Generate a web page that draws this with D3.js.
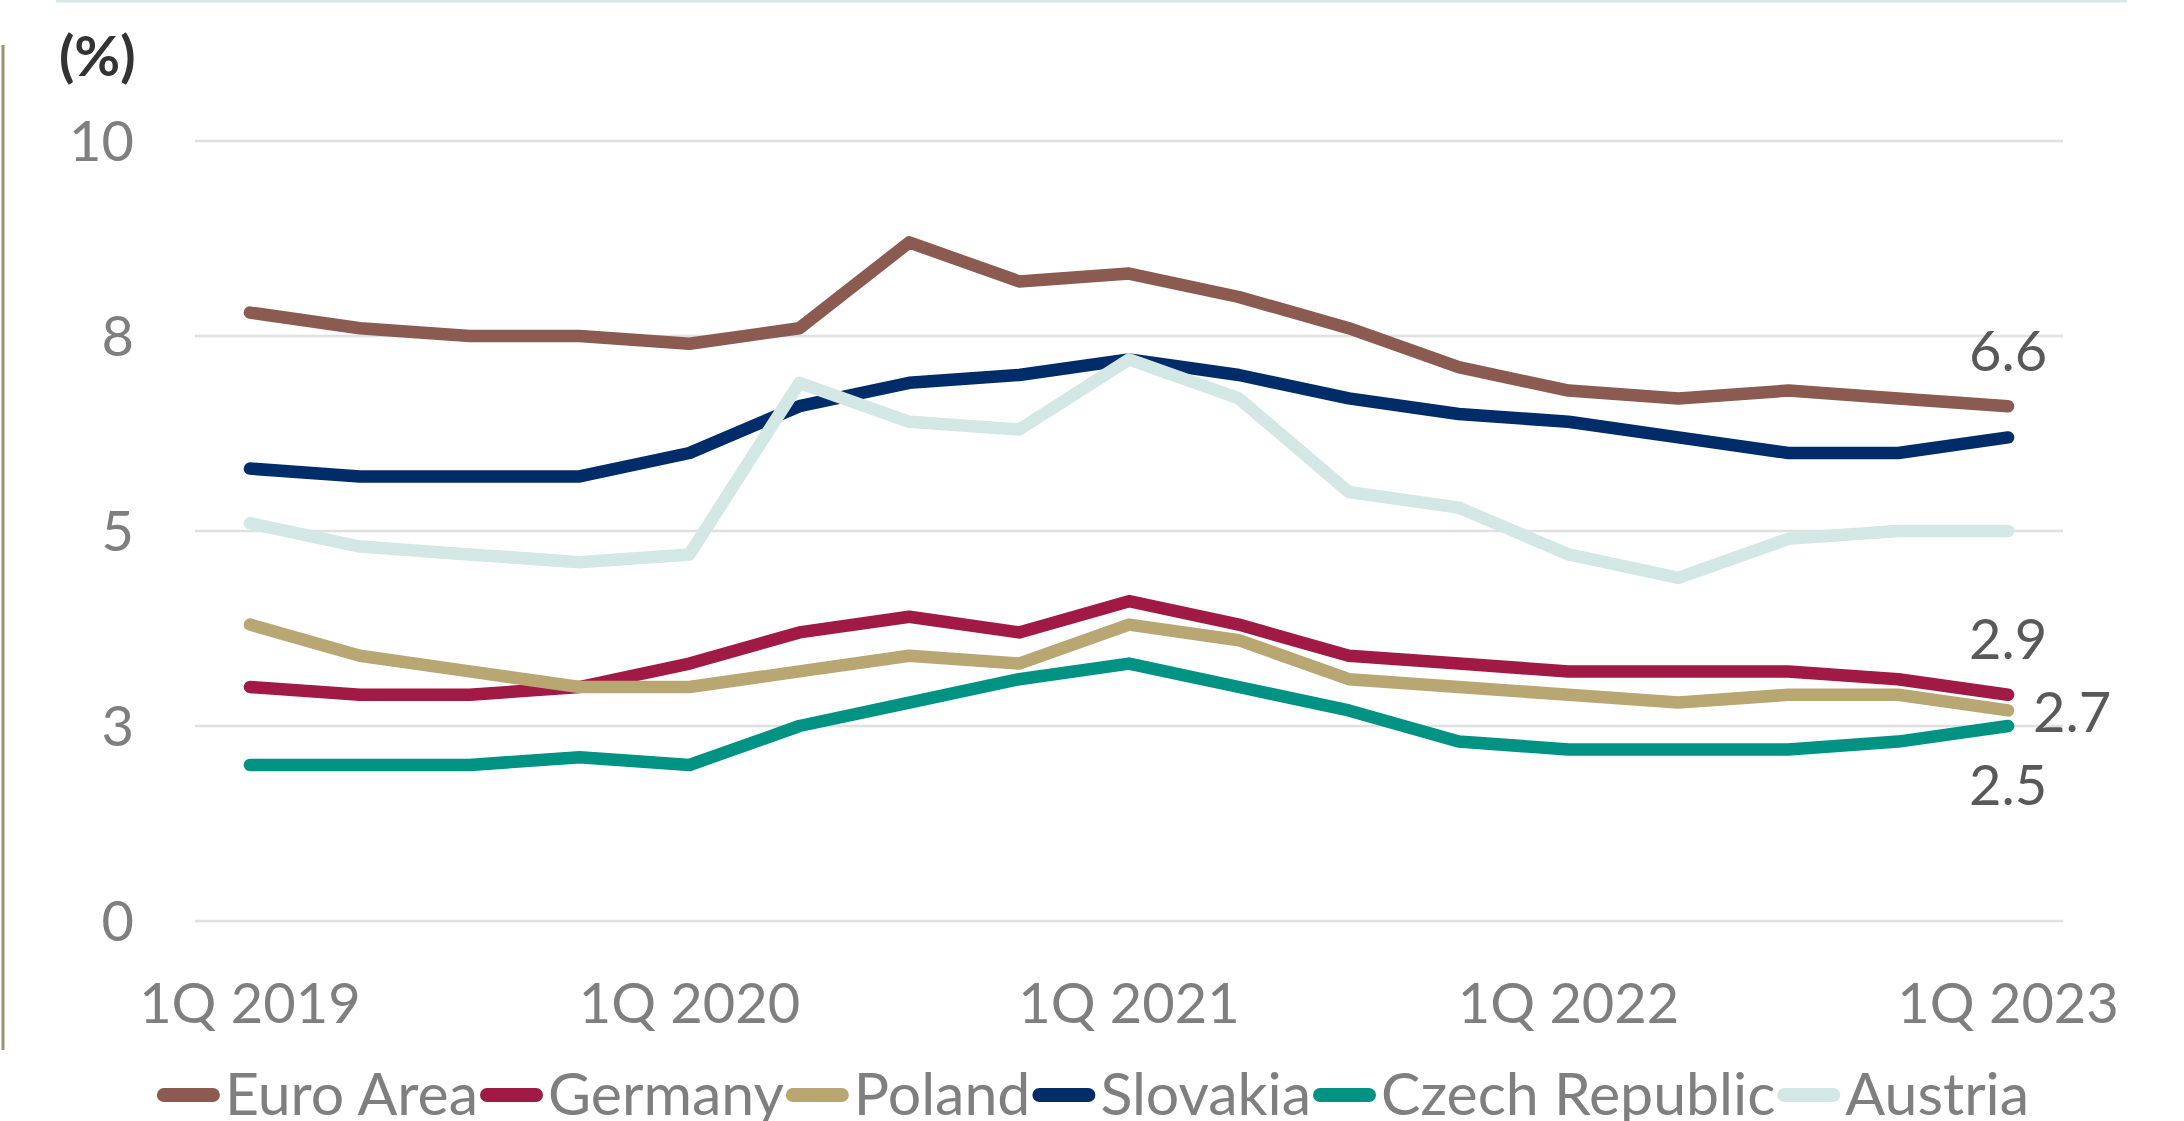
<!DOCTYPE html>
<html>
<head>
<meta charset="utf-8">
<script src="https://cdn.jsdelivr.net/npm/d3@7"></script>
<style>
  html, body { margin: 0; padding: 0; background: #fff; }
  svg { display: block; font-family: Lato, "Open Sans", sans-serif; }
</style>
</head>
<body>
<div id="chart"></div>
<script>
// Quarters on the x axis
var quarters = ["1Q 2019", "2Q 2019", "3Q 2019", "4Q 2019",
                "1Q 2020", "2Q 2020", "3Q 2020", "4Q 2020",
                "1Q 2021", "2Q 2021", "3Q 2021", "4Q 2021",
                "1Q 2022", "2Q 2022", "3Q 2022", "4Q 2022",
                "1Q 2023"];
var xTickLabels = ["1Q 2019", "1Q 2020", "1Q 2021", "1Q 2022", "1Q 2023"];

// y axis ticks (labels are rounded like the original)
var yTicks = [0, 2.5, 5, 7.5, 10];
var yTickLabels = ["0", "3", "5", "8", "10"];

// Series values (%)
var euroArea = [7.8, 7.6, 7.5, 7.5, 7.4, 7.6, 8.7, 8.2, 8.3, 8.0, 7.6, 7.1, 6.8, 6.7, 6.8, 6.7, 6.6];
var germany  = [3.0, 2.9, 2.9, 3.0, 3.3, 3.7, 3.9, 3.7, 4.1, 3.8, 3.4, 3.3, 3.2, 3.2, 3.2, 3.1, 2.9];
var poland   = [3.8, 3.4, 3.2, 3.0, 3.0, 3.2, 3.4, 3.3, 3.8, 3.6, 3.1, 3.0, 2.9, 2.8, 2.9, 2.9, 2.7];
var slovakia = [5.8, 5.7, 5.7, 5.7, 6.0, 6.6, 6.9, 7.0, 7.2, 7.0, 6.7, 6.5, 6.4, 6.2, 6.0, 6.0, 6.2];
var czech    = [2.0, 2.0, 2.0, 2.1, 2.0, 2.5, 2.8, 3.1, 3.3, 3.0, 2.7, 2.3, 2.2, 2.2, 2.2, 2.3, 2.5];
var austria  = [5.1, 4.8, 4.7, 4.6, 4.7, 6.9, 6.4, 6.3, 7.2, 6.7, 5.5, 5.3, 4.7, 4.4, 4.9, 5.0, 5.0];

var seriesNames = ["Euro Area", "Germany", "Poland", "Slovakia", "Czech Republic", "Austria"];
var seriesColors = ["#8b5a50", "#a01a45", "#b9a773", "#002c69", "#009282", "#d3e8e5"];
var seriesValues = [euroArea, germany, poland, slovakia, czech, austria];

// Whole picture size
var svgWidth = 2184;
var svgHeight = 1121;

var svg = d3.select("#chart")
    .append("svg")
    .attr("width", svgWidth)
    .attr("height", svgHeight);

// Frame pieces visible at the edges of the original picture
svg.append("line")
    .attr("x1", 56).attr("x2", 2127)
    .attr("y1", 1).attr("y2", 1)
    .attr("stroke", "#d5e8e6")
    .attr("stroke-width", 3);
svg.append("line")
    .attr("x1", 3).attr("x2", 3)
    .attr("y1", 45).attr("y2", 1050)
    .attr("stroke", "#9d916e")
    .attr("stroke-width", 3);

// Scales
var xScale = d3.scalePoint()
    .domain(quarters)
    .range([195, 2063])
    .padding(0.5);

var yScale = d3.scaleLinear()
    .domain([0, 10])
    .range([921, 141]);

// Gridlines
svg.append("g")
    .selectAll("line")
    .data(yTicks)
    .enter()
    .append("line")
    .attr("x1", 195)
    .attr("x2", 2063)
    .attr("y1", d => yScale(d))
    .attr("y2", d => yScale(d))
    .attr("stroke", "#e0e0e0")
    .attr("stroke-width", 2.5);

// y tick labels
svg.append("g")
    .selectAll("text")
    .data(yTicks)
    .enter()
    .append("text")
    .attr("x", 134)
    .attr("y", d => yScale(d) + 20)
    .attr("text-anchor", "end")
    .attr("font-size", 56)
    .attr("fill", "#7f7f7f")
    .text((d, i) => yTickLabels[i]);

// x tick labels
svg.append("g")
    .selectAll("text")
    .data(xTickLabels)
    .enter()
    .append("text")
    .attr("x", d => xScale(d))
    .attr("y", 1023)
    .attr("text-anchor", "middle")
    .attr("font-size", 56)
    .attr("fill", "#7f7f7f")
    .text(d => d);

// unit label
svg.append("text")
    .attr("x", 59)
    .attr("y", 76)
    .attr("font-size", 56)
    .attr("font-weight", "bold")
    .attr("fill", "#333333")
    .text("(%)");

// Lines
var line = d3.line()
    .x((d, i) => xScale(quarters[i]))
    .y(d => yScale(d));

svg.append("g")
    .selectAll("path")
    .data(seriesValues)
    .enter()
    .append("path")
    .attr("d", d => line(d))
    .attr("fill", "none")
    .attr("stroke", (d, i) => seriesColors[i])
    .attr("stroke-width", 12.5)
    .attr("stroke-linecap", "round")
    .attr("stroke-linejoin", "round");

// End value labels
var lastQ = quarters[quarters.length - 1];
var endLabels = [
    {value: euroArea[16], dx: 0, dy: -35, anchor: "middle"},
    {value: germany[16], dx: 0, dy: -36, anchor: "middle"},
    {value: poland[16], dx: 25, dy: 22, anchor: "start"},
    {value: czech[16], dx: 0, dy: 79, anchor: "middle"}
];
svg.append("g")
    .selectAll("text")
    .data(endLabels)
    .enter()
    .append("text")
    .attr("x", d => xScale(lastQ) + d.dx)
    .attr("y", d => yScale(d.value) + d.dy)
    .attr("text-anchor", d => d.anchor)
    .attr("font-size", 56)
    .attr("fill", "#595959")
    .text(d => d3.format(".1f")(d.value));

// Legend, laid out item after item and centred
var legend = svg.append("g");
var xPos = 0;
seriesNames.forEach((name, i) => {
    legend.append("line")
        .attr("x1", xPos + 7).attr("x2", xPos + 56)
        .attr("y1", 1095).attr("y2", 1095)
        .attr("stroke", seriesColors[i])
        .attr("stroke-width", 14)
        .attr("stroke-linecap", "round");
    var t = legend.append("text")
        .attr("x", xPos + 68)
        .attr("y", 1115)
        .attr("font-size", 59)
        .attr("fill", "#7f7f7f")
        .text(name);
    xPos += 68 + t.node().getComputedTextLength() + 2;
});
legend.attr("transform", `translate(${1094 - xPos / 2}, 0)`);
</script>
</body>
</html>
